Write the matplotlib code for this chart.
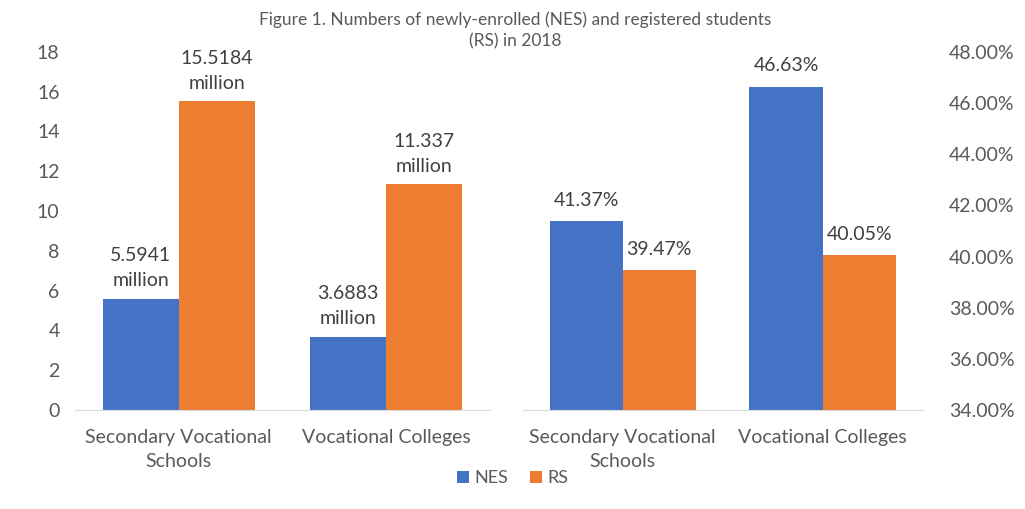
import matplotlib.pyplot as plt
import numpy as np
from matplotlib.ticker import FuncFormatter

plt.rcParams['font.family'] = ['Lato', 'DejaVu Sans']

# Data for both panels
categories = ["Secondary Vocational\nSchools", "Vocational Colleges"]
nes_counts = [5.5941, 3.6883]      # million
rs_counts = [15.5184, 11.337]      # million
nes_share = [41.37, 46.63]         # percent
rs_share = [39.47, 40.05]          # percent

blue = "#4472C4"
orange = "#ED7D31"
text_col = "#595959"
label_col = "#404040"

fig = plt.figure(figsize=(10.25, 5.09), dpi=100)
ax1 = fig.add_axes([0.073, 0.1945, 0.405, 0.7035])
ax2 = fig.add_axes([0.510, 0.1945, 0.390, 0.7035])

x = np.arange(len(categories))
w = 0.366

# left panel: counts
b1 = ax1.bar(x - w / 2, nes_counts, w, color=blue, label="NES")
b2 = ax1.bar(x + w / 2, rs_counts, w, color=orange, label="RS")
ax1.set_ylim(0, 18)
ax1.set_yticks(range(0, 19, 2))
for bars, vals in [(b1, nes_counts), (b2, rs_counts)]:
    for rect, v in zip(bars, vals):
        ax1.annotate(f"{v:g}\nmillion", (rect.get_x() + rect.get_width() / 2, v),
                     xytext=(0, 7), textcoords="offset points", ha="center",
                     va="bottom", fontsize=14, color=label_col, linespacing=1.55)

# right panel: shares
b3 = ax2.bar(x - w / 2, nes_share, w, color=blue)
b4 = ax2.bar(x + w / 2, rs_share, w, color=orange)
ax2.set_ylim(34, 48)
ax2.set_yticks(range(34, 49, 2))
ax2.yaxis.set_major_formatter(FuncFormatter(lambda v, p: f"{v:.2f}%"))
ax2.yaxis.tick_right()
for bars, vals in [(b3, nes_share), (b4, rs_share)]:
    for rect, v in zip(bars, vals):
        ax2.annotate(f"{v:.2f}%", (rect.get_x() + rect.get_width() / 2, v),
                     xytext=(0, 9), textcoords="offset points", ha="center",
                     va="bottom", fontsize=14, color=label_col)

for ax in (ax1, ax2):
    ax.set_xlim(-0.5, 1.5)
    ax.set_xticks(x)
    ax.set_xticklabels(categories, fontsize=14, color=text_col, linespacing=1.45)
    for s in ("top", "left", "right"):
        ax.spines[s].set_visible(False)
    ax.spines["bottom"].set_color("#D9D9D9")
    ax.tick_params(axis="both", length=0, labelsize=14, labelcolor=text_col)
    ax.tick_params(axis="x", pad=14)
ax1.tick_params(axis="y", pad=11)
ax2.tick_params(axis="y", pad=19)

fig.text(0.503, 0.940, "Figure 1. Numbers of newly-enrolled (NES) and registered students\n(RS) in 2018",
         ha="center", va="center", fontsize=12.5, color=text_col, linespacing=1.45)

fig.legend(handles=[b1, b2], labels=["NES", "RS"], loc="center",
           bbox_to_anchor=(0.5, 0.06), ncol=2, frameon=False, fontsize=13,
           handlelength=0.65, handleheight=0.65, handletextpad=0.3, columnspacing=1.2,
           labelcolor=text_col)

fig.savefig("out.png", dpi=100)
